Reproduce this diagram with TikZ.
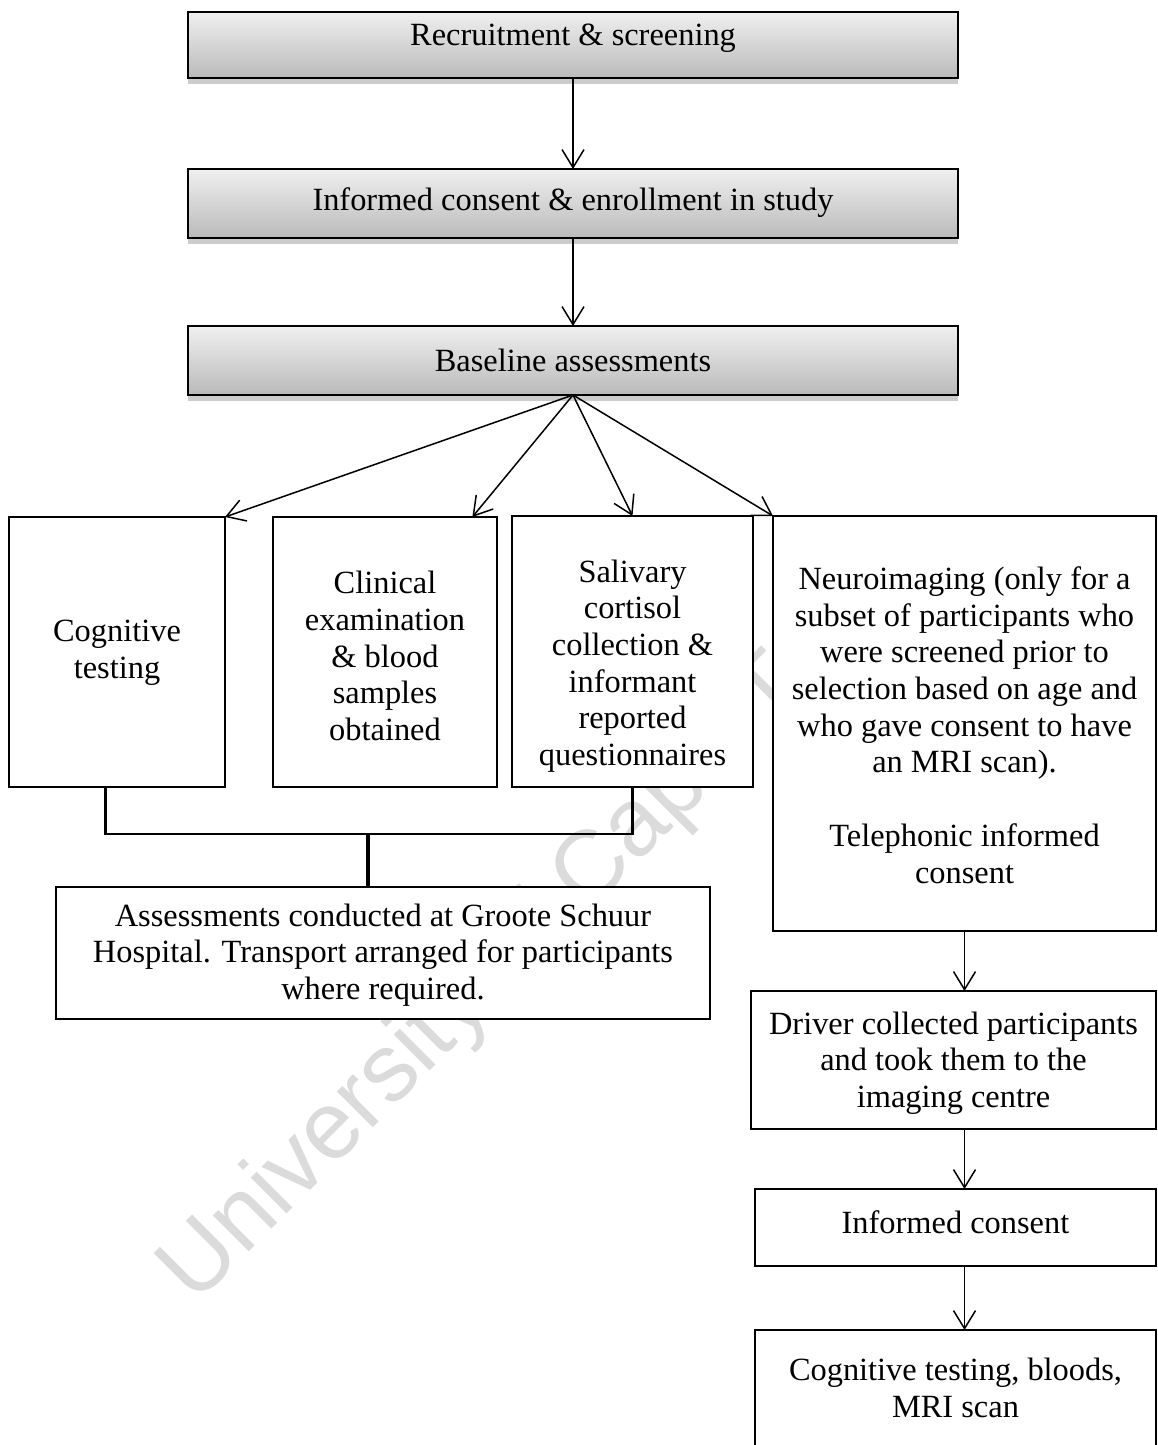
\documentclass[tikz,border=0pt]{standalone}
\usepackage{fontspec}
\setmainfont{Liberation Serif}
\newfontfamily\wmfont{Liberation Sans}
\usetikzlibrary{arrows.meta,calc,shadows}
\begin{document}
\begin{tikzpicture}[x=0.5pt,y=-0.5pt,
  box/.style={draw=black, line width=0.9pt, fill=white, inner sep=0pt, outer sep=0pt},
  gradbox/.style={draw=black, line width=0.9pt, top color=black!6, bottom color=black!27,
    inner sep=0pt, outer sep=0pt,
    drop shadow={shadow xshift=0pt, shadow yshift=-3pt, fill=black!20, opacity=1}},
  txt/.style={align=center, inner sep=0pt, font=\fontsize{16.2}{18.35}\selectfont},
  arr/.style={line width=0.75pt, -{Straight Barb[length=9pt,width=11pt]}},
  link/.style={line width=1.4pt},
  wm/.style={text=black!14, inner sep=0pt, font=\wmfont\fontsize{48}{48}\selectfont},
]
\useasboundingbox (0,0) rectangle (1157,1445);

% faint background watermark
\node[wm, rotate=45, anchor=base west] (wmark) at (195,1306) {University of Cape Town};

% main sequence (shaded boxes)
\node[gradbox, minimum width=385pt, minimum height=33pt] (b1) at (573,45) {};
\node[gradbox, minimum width=385pt, minimum height=34.5pt] (b2) at (573,203.5) {};
\node[gradbox, minimum width=385pt, minimum height=34.5pt] (b3) at (573,360.5) {};
\node[txt] (t1) at (573,38) {Recruitment \& screening};
\node[txt] (t2) at (573,203) {Informed consent \& enrollment in study};
\node[txt] (t3) at (573,360) {Baseline assessments};

% baseline assessment strands
\node[box, minimum width=108pt, minimum height=135pt] (cog) at (117,652) {};
\node[box, minimum width=112pt, minimum height=135pt] (clin) at (385,652) {};
\node[box, minimum width=120.5pt, minimum height=135.5pt] (sal) at (632.5,651.5) {};
\node[box, minimum width=191.5pt, minimum height=207.5pt] (neuro) at (964.5,723.5) {};
\node[txt] (tcog) at (117,653) {Cognitive\\testing};
\node[txt] (tclin) at (385,656) {Clinical\\examination\\\& blood\\samples\\obtained};
\node[txt] (tsal) at (632.5,666) {Salivary\\cortisol\\collection \&\\informant\\reported\\questionnaires};
\node[txt] (tneuro) at (964.5,725) {Neuroimaging (only for a\\subset of participants who\\were screened prior to\\selection based on age and\\who gave consent to have\\an MRI scan).\\[18.35pt]Telephonic informed\\consent};

% hospital assessments
\node[box, minimum width=327pt, minimum height=66pt] (gsh) at (383,953) {};
\node[txt] (tgsh) at (383,955) {Assessments conducted at Groote Schuur\\Hospital. Transport arranged for participants\\where required.};

% imaging pathway
\node[box, minimum width=202.5pt, minimum height=69pt] (drv) at (953.5,1060) {};
\node[box, minimum width=200.5pt, minimum height=38.5pt] (ic) at (955.5,1227.5) {};
\node[box, minimum width=200.5pt, minimum height=75pt] (mri) at (955.5,1405) {};
\node[txt] (tdrv) at (953.5,1063) {Driver collected participants\\and took them to the\\imaging centre};
\node[txt] (tic) at (955.5,1222) {Informed consent};
\node[txt] (tmri) at (955.5,1388) {Cognitive testing, bloods,\\MRI scan};

% arrows down the main sequence
\draw[arr] (b1.south) -- (b2.north);
\draw[arr] (b2.south) -- (b3.north);

% fan-out from baseline assessments
\draw[arr] (b3.south) -- (cog.north east);
\draw[arr] (b3.south) -- ($(clin.north west)!0.89!(clin.north east)$);
\draw[arr] (b3.south) -- (sal.north);
\draw[arr] (b3.south) -- (neuro.north west);

% bracket joining the strands to the hospital box
\coordinate (cogout) at ($(cog.south west)+(96.5,0)$);
\coordinate (barL) at (105.5,834);
\coordinate (barR) at (632.5,834);
\coordinate (barM) at (368,834);
\draw[link] (cogout) -- (barL) -- (barR) -- (sal.south);
\draw[line width=1.6pt] (barM) -- (barM |- gsh.north);

% imaging pathway arrows
\draw[arr] (neuro.south) -- (neuro.south |- drv.north);
\draw[arr] (neuro.south |- drv.south) -- (neuro.south |- ic.north);
\draw[arr] (neuro.south |- ic.south) -- (neuro.south |- mri.north);
\end{tikzpicture}
\end{document}
